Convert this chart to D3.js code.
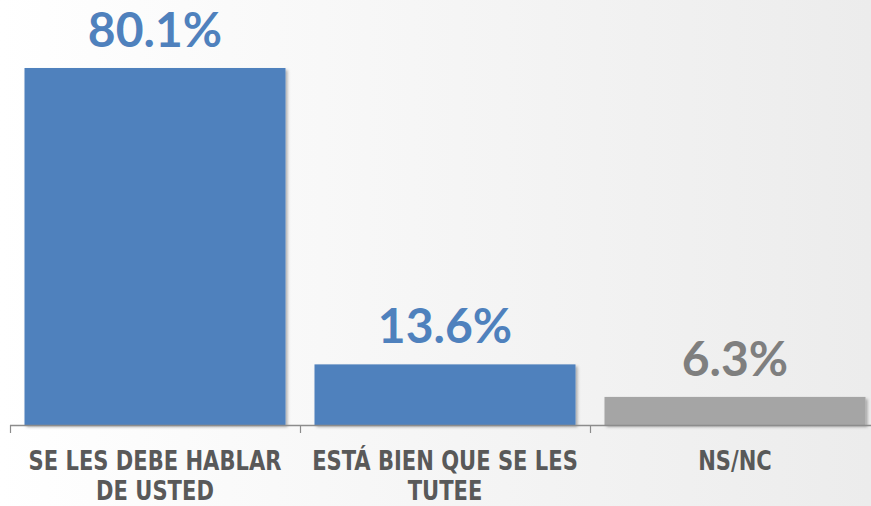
<!DOCTYPE html>
<html><head><meta charset="utf-8">
<script src="https://cdn.jsdelivr.net/npm/d3@7"></script>
<style>html,body{margin:0;padding:0;background:#fff;}</style>
</head><body>
<script>
const categories = [["SE LES DEBE HABLAR","DE USTED"],["ESTÁ BIEN QUE SE LES","TUTEE"],["NS/NC"]];
const values = [80.1, 13.6, 6.3];
const valueLabels = ["80.1%","13.6%","6.3%"];
const barColors = ["#4F81BD","#4F81BD","#A5A5A5"];
const textColors = ["#4F81BD","#4F81BD","#7F7F7F"];

const W = 871, H = 506;
const svg = d3.select("body").append("svg").attr("width", W).attr("height", H);
const defs = svg.append("defs");
const grad = defs.append("linearGradient").attr("id","bg").attr("x1","0").attr("x2","1").attr("y1","0").attr("y2","0");
grad.append("stop").attr("offset","0").attr("stop-color","#ffffff");
grad.append("stop").attr("offset","1").attr("stop-color","#ececec");
const f = defs.append("filter").attr("id","sh").attr("x","-5%").attr("y","-5%").attr("width","115%").attr("height","120%");
f.append("feDropShadow").attr("dx",2).attr("dy",2).attr("stdDeviation",1.5).attr("flood-color","#000").attr("flood-opacity",0.3);

svg.append("rect").attr("width",W).attr("height",H).attr("fill","url(#bg)");

const x = d3.scaleBand().domain(d3.range(values.length)).range([10, 880]).paddingInner(0.1).paddingOuter(0.05);
const y = d3.scaleLinear().domain([0, 100]).range([425, -20.7]);

svg.selectAll("rect.bar").data(values).join("rect").attr("class","bar")
  .attr("x",(d,i)=>x(i)).attr("width",x.bandwidth())
  .attr("y",d=>y(d)).attr("height",d=>y(0)-y(d))
  .attr("fill",(d,i)=>barColors[i]).attr("filter","url(#sh)");

// axis
const axisG = svg.append("g").attr("transform",`translate(0,${y(0)})`);
axisG.append("line").attr("x1",10).attr("x2",880).attr("y1",0.5).attr("y2",0.5).attr("stroke","#8c8c8c").attr("stroke-width",1.5);
const step = x.step();
d3.range(values.length+1).forEach(i=>{
  const tx = Math.round(10 + i*step)+0.5;
  axisG.append("line").attr("x1",tx).attr("x2",tx).attr("y1",0).attr("y2",8).attr("stroke","#8c8c8c").attr("stroke-width",1.2);
});

svg.selectAll("text.val").data(values).join("text").attr("class","val")
  .attr("x",(d,i)=>x(i)+x.bandwidth()/2).attr("y",d=>y(d)-21)
  .attr("text-anchor","middle").attr("fill",(d,i)=>textColors[i])
  .style("font-family","Lato, 'DejaVu Sans', sans-serif").style("font-weight","bold").style("font-size","48px")
  .text((d,i)=>valueLabels[i]);

const labelNodes = [];
categories.forEach((lines,i)=>{
  const cx = 10 + (i+0.5)*step;
  lines.forEach((t,j)=>{
    const g = svg.append("g").attr("transform",`translate(${cx},${470+j*30})`);
    const tn = g.append("text").attr("x",0).attr("y",0).attr("text-anchor","middle")
      .attr("fill","#595959")
      .style("font-family","'DejaVu Sans Condensed', 'DejaVu Sans', sans-serif")
      .style("font-weight","bold").style("font-size","27px")
      .text(t);
    labelNodes.push({g, tn, i, j});
  });
});
// condense glyphs horizontally to match the narrow label face
const refW = labelNodes[0].tn.node().getComputedTextLength();
const sx = 253 / refW;
labelNodes.forEach(o=>{
  const t = o.g.attr("transform");
  o.g.attr("transform", t + ` scale(${sx},1)`);
});
</script>
</body></html>
